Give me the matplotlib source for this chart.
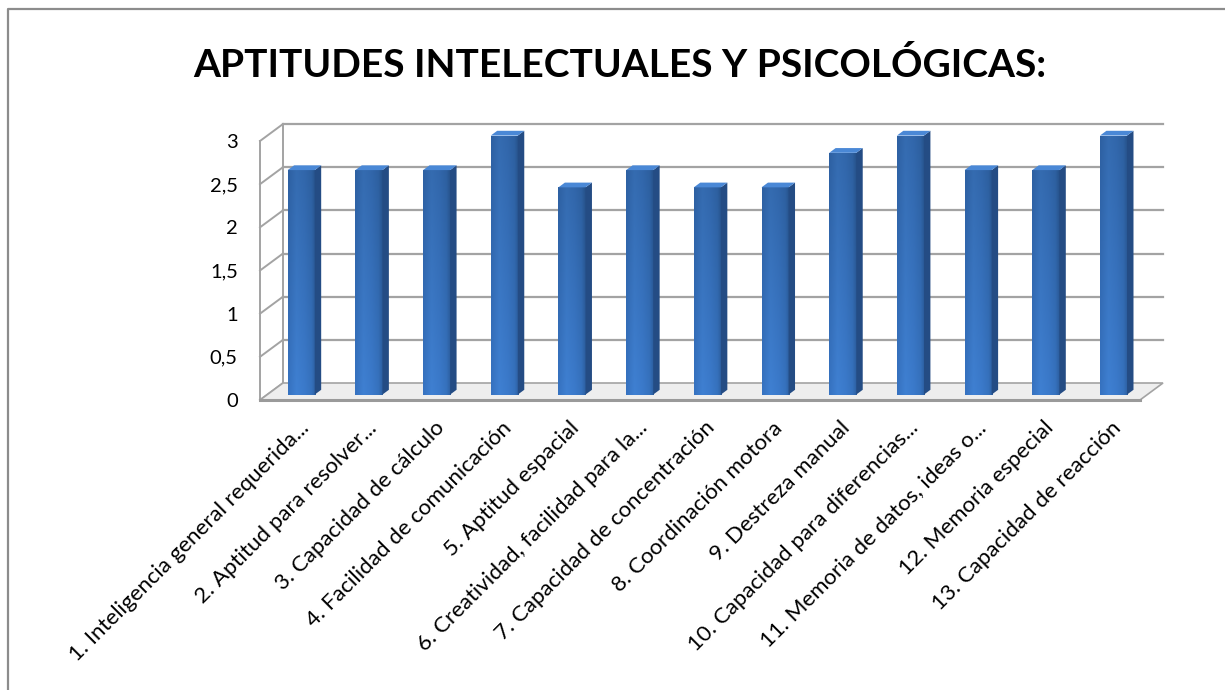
import numpy as np
import matplotlib
matplotlib.use("Agg")
import matplotlib.pyplot as plt
from matplotlib.transforms import ScaledTranslation, IdentityTransform
from matplotlib.patches import Polygon
from matplotlib.lines import Line2D
from matplotlib.colors import to_rgb

# ---------------- data ----------------
categories = [
    "1. Inteligencia general requerida...",
    "2. Aptitud para resolver...",
    "3. Capacidad de cálculo",
    "4. Facilidad de comunicación",
    "5. Aptitud espacial",
    "6. Creatividad, facilidad para la...",
    "7. Capacidad de concentración",
    "8. Coordinación motora",
    "9. Destreza manual",
    "10. Capacidad para diferencias...",
    "11. Memoria de datos, ideas o...",
    "12. Memoria especial",
    "13. Capacidad de reacción",
]
values = [2.6, 2.6, 2.6, 3, 2.4, 2.6, 2.4, 2.4, 2.8, 3, 2.6, 2.6, 3]
y_ticks = [0, 0.5, 1, 1.5, 2, 2.5, 3]
y_tick_labels = ["0", "0,5", "1", "1,5", "2", "2,5", "3"]
title = "APTITUDES INTELECTUALES Y PSICOLÓGICAS:"

plt.rcParams['font.family'] = ['Lato', 'DejaVu Sans']

W, H = 1225, 690
DPI = 100
fig = plt.figure(figsize=(W / DPI, H / DPI), dpi=DPI)
fig.patch.set_facecolor('white')

# front plane of the 3D box
ax = fig.add_axes([260 / W, (H - 400) / H, 880 / W, 259 / H])
n = len(values)
ax.set_xlim(-0.5, n - 0.5)
ax.set_ylim(0, 3)
for s in ax.spines.values():
    s.set_visible(False)
ax.patch.set_visible(False)

DX, DY = 23.0, 17.0  # depth vector (px)
GRID = '#A3A3A3'


def P(x, y, d):
    px, py = ax.transData.transform((x, y))
    return (px + d * DX, py + d * DY)


def off(d):
    return ax.transData + ScaledTranslation(d * DX / DPI, d * DY / DPI, fig.dpi_scale_trans)


def line(p, q, **kw):
    ax.add_line(Line2D([p[0], q[0]], [p[1], q[1]], transform=IdentityTransform(),
                       clip_on=False, **kw))


x_lo, x_hi = -0.5, n - 0.5
# back wall + left wall gridlines
for y in y_ticks:
    if y > 0:
        line(P(x_lo, y, 1), P(x_hi, y, 1), color=GRID, lw=1.6, zorder=1)
    line(P(x_lo, y, 0), P(x_lo, y, 1), color=GRID, lw=1.4, zorder=1)
line(P(x_lo, 0, 0), P(x_lo, 3, 0), color=GRID, lw=1.4, zorder=1)
line(P(x_lo, 0, 1), P(x_lo, 3, 1), color=GRID, lw=1.4, zorder=1)

# floor
floor = Polygon([P(x_lo, 0, 0), P(x_hi, 0, 0), P(x_hi, 0, 1), P(x_lo, 0, 1)],
                closed=True, transform=IdentityTransform(), facecolor='#EEEEEE',
                edgecolor=GRID, lw=1.2, zorder=2, clip_on=False)
ax.add_patch(floor)
line(P(x_lo, 0, 0), P(x_hi, 0, 0), color='#9A9A9A', lw=2.2, zorder=2.1)

# gradient image for bar fronts
cols = np.array([to_rgb('#3672C0'), to_rgb('#3F80D2'), to_rgb('#3B7ACB'),
                 to_rgb('#3672BE'), to_rgb('#2D60A2')])
pos = np.array([0.0, 0.3, 0.6, 0.85, 1.0])
xs = np.linspace(0, 1, 40)
row = np.stack([np.interp(xs, pos, cols[:, k]) for k in range(3)], axis=-1)
vert = np.linspace(1.0, 0.84, 60)[:, None, None]  # top -> bottom
grad = np.clip(row[None, :, :] * vert, 0, 1)

BW = 0.4
D0, D1 = 0.32, 0.60
for i, v in enumerate(values):
    x0, x1 = i - BW / 2, i + BW / 2
    bars = ax.bar(i, v, width=BW, color='#3A76C4', transform=off(D0), zorder=3,
                  linewidth=0)
    rect = bars[0]
    im = ax.imshow(grad, extent=(x0, x1, v, 0), origin='upper', aspect='auto',
                   interpolation='bilinear', transform=off(D0), zorder=3.1)
    im.set_clip_path(rect)
    side = Polygon([P(x1, 0, D0), P(x1, v, D0), P(x1, v, D1), P(x1, 0, D1)],
                   closed=True, transform=IdentityTransform(), facecolor='#244C84',
                   edgecolor='none', zorder=3.2, clip_on=False)
    top = Polygon([P(x0, v, D0), P(x1, v, D0), P(x1, v, D1), P(x0, v, D1)],
                  closed=True, transform=IdentityTransform(), facecolor='#4A88D6',
                  edgecolor='none', zorder=3.2, clip_on=False)
    ax.add_patch(side)
    ax.add_patch(top)

ax.set_xlim(-0.5, n - 0.5)
ax.set_ylim(0, 3)

# y ticks
ax.set_yticks(y_ticks)
ax.set_yticklabels(y_tick_labels, fontsize=14.5, color='#000000')
ax.tick_params(axis='y', length=0, pad=16)

# x ticks
ax.set_xticks(range(n))
ax.set_xticklabels(categories, fontsize=16, color='#000000')
ax.tick_params(axis='x', length=0, pad=0)
shift = ScaledTranslation(16 / DPI, -29 / DPI, fig.dpi_scale_trans)
for lab in ax.get_xticklabels():
    lab.set_rotation(45)
    lab.set_rotation_mode('anchor')
    lab.set_ha('right')
    lab.set_va('baseline')
    lab.set_transform(lab.get_transform() + shift)

# title
fig.text(620 / W, (H - 77) / H, title, ha='center', va='baseline', fontsize=28,
         fontweight='bold', color='#000000')

# chart border (top and left visible)
fig.add_artist(Line2D([8 / W, 8 / W, 1.01], [-0.01, 1 - 9 / H, 1 - 9 / H],
                      transform=fig.transFigure, color='#8C8C8C', lw=1.6))

fig.savefig('out.png', dpi=DPI, facecolor='white')
